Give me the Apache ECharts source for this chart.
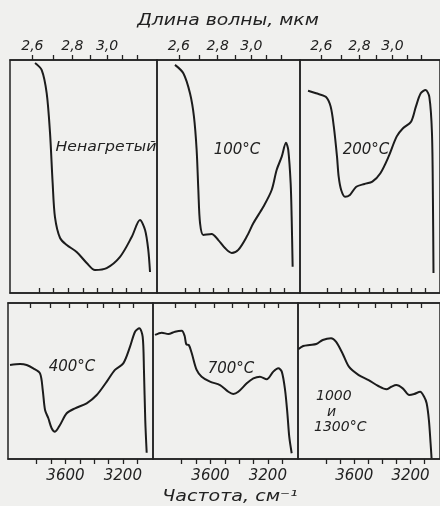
<!DOCTYPE html>
<html>
<head>
<meta charset="utf-8">
<script src="https://cdn.jsdelivr.net/npm/echarts@6/dist/echarts.min.js"></script>
<style>
  html, body { margin: 0; padding: 0; background: #f0f0ee; }
  #chart { width: 440px; height: 506px; }
</style>
</head>
<body>
<div id="chart"></div>
<script>
// wavenumber (cm-1) / relative transmission (0 = bottom of panel, 100 = top)
const unheated = [[3828, 98.7], [3782, 95.7], [3748, 85.8], [3725, 68.7], [3707, 47.2], [3691, 32.6], [3656, 23.6], [3610, 20.6], [3542, 17.6], [3473, 12.9], [3416, 9.9], [3336, 10.7], [3244, 15.5], [3164, 24.0], [3107, 31.3], [3072, 27.0], [3050, 18.5], [3038, 9.0]];
const t100 = [[3873, 97.9], [3814, 94.3], [3767, 85.7], [3739, 75.7], [3720, 61.4], [3708, 44.2], [3696, 30.0], [3673, 24.9], [3614, 25.3], [3567, 22.7], [3520, 19.3], [3472, 17.2], [3426, 18.5], [3366, 24.2], [3320, 29.9], [3249, 37.0], [3190, 44.2], [3155, 52.8], [3119, 58.5], [3089, 64.5], [3073, 61.4], [3056, 47.1], [3049, 32.7], [3042, 11.3]];
const t200 = [[3942, 86.8], [3884, 85.7], [3814, 84.2], [3779, 80.0], [3756, 71.4], [3733, 58.5], [3721, 49.9], [3703, 44.2], [3675, 41.3], [3640, 42.1], [3594, 45.6], [3535, 46.8], [3478, 47.8], [3420, 51.4], [3361, 58.5], [3303, 67.1], [3257, 70.7], [3199, 73.5], [3164, 80.0], [3129, 85.7], [3094, 87.1], [3067, 84.2], [3048, 68.7], [3041, 39.9], [3037, 8.6]];
const t400 = [[3986, 60.3], [3916, 60.9], [3870, 60.3], [3824, 58.1], [3777, 54.9], [3758, 44.2], [3742, 31.4], [3719, 26.1], [3696, 19.7], [3673, 17.5], [3638, 21.8], [3591, 29.3], [3533, 32.5], [3452, 35.7], [3382, 41.0], [3312, 49.6], [3255, 57.1], [3197, 61.3], [3150, 72.0], [3115, 81.6], [3085, 83.8], [3062, 78.4], [3053, 57.1], [3044, 25.0], [3034, 4.0]];
const t700 = [[3986, 79.5], [3939, 81.0], [3893, 80.1], [3847, 81.6], [3800, 82.2], [3780, 79.0], [3768, 73.5], [3750, 73.0], [3730, 67.8], [3696, 57.1], [3661, 52.8], [3603, 49.6], [3533, 47.4], [3475, 43.1], [3441, 41.7], [3406, 43.1], [3347, 48.5], [3301, 51.7], [3255, 52.8], [3208, 51.1], [3162, 56.0], [3127, 58.1], [3103, 56.0], [3080, 44.2], [3064, 29.3], [3051, 14.3], [3034, 3.7]];
const t1000 = [[3998, 70.3], [3963, 72.4], [3916, 73.1], [3870, 73.7], [3824, 76.3], [3765, 77.4], [3730, 75.2], [3684, 67.8], [3638, 59.2], [3568, 53.8], [3498, 50.6], [3429, 46.8], [3371, 44.7], [3336, 46.3], [3301, 47.4], [3255, 45.3], [3208, 41.0], [3173, 41.7], [3131, 43.1], [3103, 39.9], [3085, 35.7], [3069, 25.0], [3057, 10.1], [3050, 0.5]];

const wavelengthTicks = [2.6, 2.7, 2.8, 2.9, 3.0, 3.1, 3.2];
const wavelengthLabels = [2.6, 2.8, 3.0];
const wavenumberTicks = [3800, 3700, 3600, 3500, 3400, 3300, 3200, 3100];
const wavenumberLabels = [3600, 3200];
const panelSeries = [unheated, t100, t200, t400, t700, t1000];

const ink = '#222';
const font = 'DejaVu Sans';

let myChart = echarts.init(document.getElementById('chart'));

// panel boxes, px
const boxes = [
  { left: 10, top: 60, width: 147, height: 233 },
  { left: 157, top: 60, width: 143, height: 233 },
  { left: 300, top: 60, width: 145, height: 233 },
  { left: 8, top: 303, width: 145, height: 156 },
  { left: 153, top: 303, width: 145, height: 156 },
  { left: 298, top: 303, width: 145, height: 156 }
];

const grid = [], xAxis = [], yAxis = [], series = [];
boxes.forEach((b, i) => {
  const lowerRow = i >= 3;
  grid.push(Object.assign({ show: true, borderColor: ink, borderWidth: 1.5, backgroundColor: 'transparent' }, b));
  // top: wavelength
  xAxis.push({
    type: 'value', gridIndex: i, position: 'top', min: 2990, max: 4000, inverse: true,
    axisLine: { show: true, onZero: false, lineStyle: { color: ink, width: 1.5 } },
    axisTick: { show: true, inside: lowerRow, length: 5, lineStyle: { color: ink, width: 1.3 },
      customValues: wavelengthTicks.map(l => 10000 / l) },
    axisLabel: { show: !lowerRow, margin: 7, color: ink, fontSize: 14, fontStyle: 'italic', fontFamily: font,
      customValues: wavelengthLabels.map(l => 10000 / l),
      formatter: v => (10000 / v).toFixed(1).replace('.', ',') },
    splitLine: { show: false }
  });
  // bottom: wavenumber
  xAxis.push({
    type: 'value', gridIndex: i, position: 'bottom', min: 2990, max: 4000, inverse: true,
    axisLine: { show: true, onZero: false, lineStyle: { color: ink, width: 1.5 } },
    axisTick: { show: true, inside: !lowerRow, length: 5, lineStyle: { color: ink, width: 1.3 },
      customValues: wavenumberTicks },
    axisLabel: { show: lowerRow, margin: 10, color: ink, fontSize: 15, fontStyle: 'italic', fontFamily: font,
      customValues: wavenumberLabels, formatter: v => String(v) },
    splitLine: { show: false }
  });
  yAxis.push({ type: 'value', gridIndex: i, min: 0, max: 100, show: false });
  series.push({
    type: 'line', xAxisIndex: 2 * i + 1, yAxisIndex: i, data: panelSeries[i],
    smooth: 0.3, showSymbol: false, symbol: 'none',
    lineStyle: { color: '#1c1c1c', width: 2 }
  });
});

const txt = (text, x, y, size, align, sx) => ({
  type: 'text', x: x, y: y, scaleX: sx || 1,
  style: { text: text, fontSize: size, fontStyle: 'italic', fontFamily: font, fill: ink,
    textAlign: align || 'center', textVerticalAlign: 'middle' }
});

const option = {
  backgroundColor: '#f0f0ee',
  animation: false,
  grid: grid,
  xAxis: xAxis,
  yAxis: yAxis,
  series: series,
  graphic: [
    txt('Длина волны, мкм', 228, 21, 15, 'center', 1.25),
    txt('Частота, см⁻¹', 230, 497, 15, 'center', 1.27),
    txt('Ненагретый', 106, 147, 14, 'center', 1.12),
    txt('100°C', 237, 150, 15),
    txt('200°C', 366, 150, 15),
    txt('400°C', 72, 367, 15),
    txt('700°C', 231, 369, 15),
    txt('1000', 316, 396, 14, 'left'),
    txt('и', 327, 412, 14, 'left'),
    txt('1300°C', 314, 427, 14, 'left')
  ]
};
myChart.setOption(option);
</script>
</body>
</html>
